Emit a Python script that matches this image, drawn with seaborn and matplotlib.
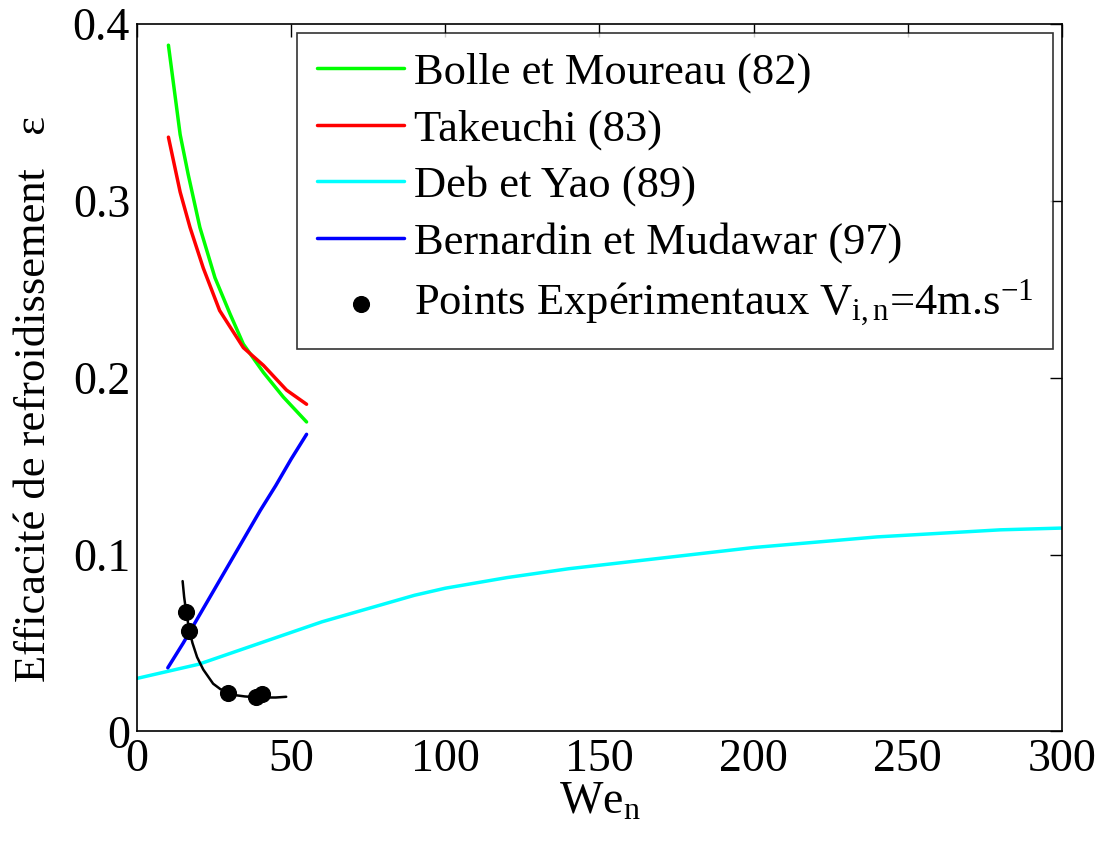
import matplotlib
matplotlib.use("Agg")
import matplotlib.pyplot as plt
import seaborn as sns

# Bolle et Moureau (82)
we_bolle = [10.2, 14, 16.6, 20.4, 25.3, 30.2, 34.5, 41, 47.5, 55]
eps_bolle = [0.388, 0.3375, 0.315, 0.285, 0.2565, 0.236, 0.219, 0.203, 0.189, 0.175]

# Takeuchi (83)
we_take = [10.2, 14, 17.2, 21.5, 26.8, 34.5, 41, 48.5, 55]
eps_take = [0.336, 0.305, 0.285, 0.262, 0.238, 0.217, 0.207, 0.193, 0.185]

# Deb et Yao (89)
we_deb = [0, 10, 20, 30, 40, 50, 60, 70, 80, 90, 100, 120, 140, 160, 180, 200,
          220, 240, 260, 280, 300]
eps_deb = [0.030, 0.034, 0.038, 0.044, 0.050, 0.056, 0.062, 0.067, 0.072, 0.077,
           0.081, 0.087, 0.092, 0.096, 0.100, 0.104, 0.107, 0.110, 0.112, 0.114, 0.115]

# Bernardin et Mudawar (97)
we_bern = [10, 15, 20, 25, 30, 35, 40, 45, 50, 55]
eps_bern = [0.036, 0.050, 0.065, 0.080, 0.095, 0.110, 0.125, 0.139, 0.154, 0.168]

# experimental points and fitted curve
we_exp = [16.0, 17.0, 29.4, 38.7, 40.6]
eps_exp = [0.0676, 0.0567, 0.0219, 0.0193, 0.0211]
we_fit = [14.8, 15.3, 16, 17, 18, 19.5, 21.5, 24.7, 27, 29.4, 32, 35, 40, 45, 48.4]
eps_fit = [0.085, 0.076, 0.067, 0.057, 0.050, 0.042, 0.035, 0.027, 0.024, 0.022,
           0.0205, 0.0198, 0.0192, 0.0192, 0.0196]

sns.set_theme(style="white")
plt.rcParams["font.family"] = ["Liberation Serif", "DejaVu Serif"]
plt.rcParams["mathtext.fontset"] = "custom"
plt.rcParams["mathtext.rm"] = "Liberation Serif"
plt.rcParams["mathtext.it"] = "Liberation Serif:italic"
plt.rcParams["text.color"] = "black"
plt.rcParams["axes.labelcolor"] = "black"

FS = 33

fig = plt.figure(figsize=(11.02, 8.47), dpi=100)
ax = fig.add_axes([0.1243, 0.1364, 0.8394, 0.8353])

lw = 2.5
sns.lineplot(x=we_bolle, y=eps_bolle, color="#00ff00", lw=lw, ax=ax,
             label="Bolle et Moureau (82)")
sns.lineplot(x=we_take, y=eps_take, color="#ff0000", lw=lw, ax=ax,
             label="Takeuchi (83)")
sns.lineplot(x=we_deb, y=eps_deb, color="#00ffff", lw=lw, ax=ax,
             label="Deb et Yao (89)")
sns.lineplot(x=we_bern, y=eps_bern, color="#0000ff", lw=lw, ax=ax,
             label="Bernardin et Mudawar (97)")
sns.lineplot(x=we_fit, y=eps_fit, color="black", lw=1.8, ax=ax)
sns.scatterplot(x=we_exp, y=eps_exp, color="black", s=130, edgecolor="black",
                ax=ax, zorder=5,
                label=r"Points Expérimentaux V$_{\mathregular{i,n}}$=4m.s$^{\mathregular{-1}}$")

ax.set_xlim(0, 300)
ax.set_ylim(0, 0.4)
ax.set_xticks([0, 50, 100, 150, 200, 250, 300])
ax.set_yticks([0, 0.1, 0.2, 0.3, 0.4])
ax.set_yticklabels(["0", "0.1", "0.2", "0.3", "0.4"])
ax.tick_params(direction="in", top=True, right=True, length=9, width=1,
               labelsize=FS, pad=5, colors="black")
for s in ax.spines.values():
    s.set_color("black")
    s.set_linewidth(1.2)

ax.set_xlabel(r"We$_{\mathregular{n}}$", fontsize=FS, labelpad=0)
ax.set_ylabel("Efficacité de refroidissement   ε", fontsize=32)
ax.yaxis.set_label_coords(-0.09, 0.47)

leg = ax.legend(loc="upper right", fontsize=32, frameon=True, fancybox=False,
                edgecolor="black", handlelength=1.95, handletextpad=0.22,
                labelspacing=0.35, borderaxespad=0.2, borderpad=0.45)
leg.get_frame().set_linewidth(1.2)

fig.savefig("out.png", dpi=100)
